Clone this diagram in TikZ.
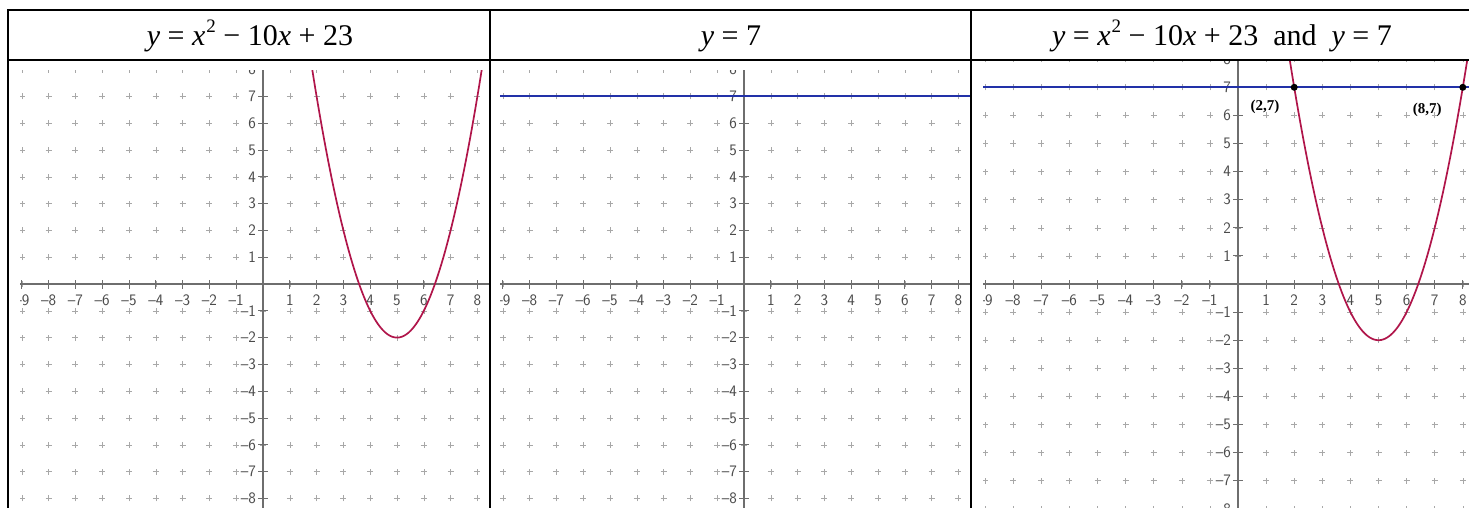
\documentclass[tikz,border=0pt]{standalone}
\usepackage{fontspec}
\setmainfont{Liberation Serif}
\definecolor{curvecol}{HTML}{B0154A}
\definecolor{linecol}{HTML}{2231A8}
\definecolor{gridcol}{HTML}{A8A8A8}
\definecolor{axiscol}{HTML}{6E6E6E}
\definecolor{labcol}{HTML}{4A4A4A}
\tikzset{
  tbl/.style={draw=black, line width=2pt, line cap=rect},
  gridplus/.style={draw=gridcol, line width=0.6pt},
  axisline/.style={draw=axiscol, line width=1.3pt},
  tickmark/.style={draw=axiscol, line width=1pt},
  axlabel/.style={font=\sffamily\fontsize{16}{16}\selectfont, text=labcol, inner sep=0pt},
  parab/.style={draw=curvecol, line width=1.7pt},
  hline/.style={draw=linecol, line width=1.8pt},
  header/.style={font=\fontsize{30}{34}\selectfont, inner sep=0pt, anchor=base},
  ptlabel/.style={font=\bfseries\fontsize{15}{15}\selectfont, inner sep=0pt},
  ptdot/.style={circle, fill=black, inner sep=0pt, minimum size=7pt},
}
\newcommand{\axnum}[1]{\ifnum#1<0 \textendash\number\numexpr0-(#1)\relax\else#1\fi}
\newcommand{\sqr}{\kern1pt\raisebox{0.45em}{\fontsize{19}{19}\selectfont 2}}
\newcommand{\hdr}[1]{\textit{y} = \textit{x}\sqr{} − 10\textit{x} + 23#1}
% #1 prefix
\newcommand{\gridaxes}[1]{%
  \foreach \i in {-10,...,9}{\foreach \j in {-9,...,9}{%
    \draw[gridplus] (\i,\j) +(-3pt,0pt) -- +(3pt,0pt) (\i,\j) +(0pt,-3pt) -- +(0pt,3pt);}}
  \draw[axisline] (-10,0) -- (10,0);
  \draw[axisline] (0,-10) -- (0,10);
  \foreach \i in {-9,...,9}{\draw[tickmark] (\i,0) +(0pt,-4.5pt) -- +(0pt,4.5pt);}
  \foreach \j in {-9,...,9}{\draw[tickmark] (0,\j) +(-5pt,0pt) -- +(5pt,0pt);}
  \foreach \i in {-9,...,-1,1,2,...,8}{\node[axlabel, yshift=-16pt] (#1x\i) at (\i,0) {\axnum{\i}};}
  \foreach \j in {-9,...,-1,1,2,...,9}{\node[axlabel, anchor=east, xshift=-7pt] (#1y\j) at (0,\j) {\axnum{\j}};}
}
\begin{document}
\begin{tikzpicture}[x=1pt, y=-1pt]
\useasboundingbox (0,0) rectangle (1469,508);
\fill[white] (0,0) rectangle (1469,508);

% panel 1
\begin{scope}
  \clip (20,71) rectangle (489,508);
  \begin{scope}[shift={(263pt,-284pt)}, x=26.8pt, y=26.8pt]
    \gridaxes{a}
    \draw[parab] plot[domain=1.0:9.0, samples=120] (\x, {\x*\x-10*\x+23});
  \end{scope}
\end{scope}

% panel 2
\begin{scope}
  \clip (500,71) rectangle (970,508);
  \begin{scope}[shift={(744pt,-284pt)}, x=26.8pt, y=26.8pt]
    \gridaxes{b}
    \coordinate (bl) at (-10,7);
    \coordinate (br) at (10,7);
    \draw[hline] (bl) -- (br);
  \end{scope}
\end{scope}

% panel 3
\begin{scope}
  \clip (983,61) rectangle (1469,508);
  \begin{scope}[shift={(1238pt,-284pt)}, x=28.1pt, y=28.1pt]
    \gridaxes{c}
    \draw[parab] plot[domain=1.0:9.0, samples=120] (\x, {\x*\x-10*\x+23});
    \coordinate (cl) at (-10,7);
    \coordinate (cr) at (10,7);
    \draw[hline] (cl) -- (cr);
    \node[ptdot] (p1) at (2,7) {};
    \node[ptdot] (p2) at (8,7) {};
    \node[ptlabel] (l1) at (0.96,6.3) {(2,7)};
    \node[ptlabel] (l2) at (6.73,6.19) {(8,7)};
  \end{scope}
\end{scope}

% table
\draw[tbl] (8,10) -- (1469,10);
\draw[tbl] (8,60) -- (1469,60);
\draw[tbl] (8,10) -- (8,508);
\draw[tbl] (490,10) -- (490,508);
\draw[tbl] (971,10) -- (971,508);

% headers
\node[header] (h1) at (250,46) {\hdr{}};
\node[header] (h2) at (731,46) {\textit{y} = 7};
\node[header] (h3) at (1222,46) {\hdr{\ \ and\ \ \textit{y} = 7}};
\end{tikzpicture}
\end{document}
